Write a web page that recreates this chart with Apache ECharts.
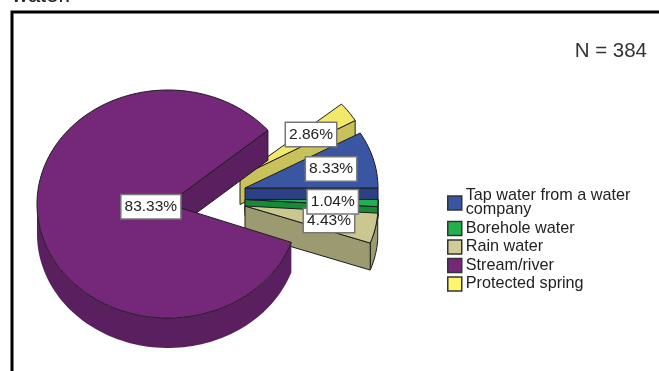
<!DOCTYPE html>
<html>
<head>
<meta charset="utf-8">
<style>html,body{margin:0;padding:0;background:#fff}#chart{width:659px;height:371px}</style>
<script src="https://cdn.jsdelivr.net/npm/echarts@6/dist/echarts.min.js"></script>
</head>
<body>
<div id="chart"></div>
<script>
// Water sources, clockwise from the first slice
const sources = ['Tap water from a water company', 'Borehole water', 'Rain water', 'Stream/river', 'Protected spring'];
const percents = [8.33, 1.04, 4.43, 83.33, 2.86];
const sampleNote = 'N = 384';

// Appearance of each slice
const topColors  = ['#3a56a3', '#22b14c', '#cbc791', '#75277a', '#f2e86b'];
const sideColors = ['#2c4185', '#178a3a', '#9c9a70', '#5a1f5e', '#c9c25a'];
const swatchColors = ['#3a56a3', '#22b14c', '#d0cc98', '#75277a', '#fdf56b'];
const outlineColor = '#1d1d1d';

// Exploded pie geometry: each slice has its own apex, radii and extrusion
const apexX = [245, 245, 245, 168, 240];
const apexY = [188, 199.5, 206, 204, 176.5];
const radiusX = [133, 133, 133, 131, 133];
const radiusY = [110, 110, 110, 114, 112];
const depths = [28, 12, 27, 30, 28];
const outlinedBand = [true, true, true, false, true];
const labelRadius = [0.67, 0.66, 0.645, 0.133, 0.653];
const firstAngle = -30;
const paintOrder = [4, 0, 1, 2, 3];
const labelOrder = [3, 0, 4, 2, 1];

const total = percents.reduce((a, b) => a + b, 0);
const startAngles = [];
percents.reduce((acc, v, i) => { startAngles[i] = acc; return acc + v / total * 360; }, firstAngle);
const endAngle = i => startAngles[i] + percents[i] / total * 360;
const cosDeg = deg => Math.cos(deg * Math.PI / 180);

function rimPoint(i, deg, drop) {
  const t = deg * Math.PI / 180;
  return [apexX[i] + radiusX[i] * Math.cos(t), apexY[i] + radiusY[i] * Math.sin(t) + drop];
}
function arc(i, from, to, drop) {
  const pts = [];
  const n = Math.max(2, Math.ceil((to - from) / 2));
  for (let k = 0; k <= n; k++) pts.push(rimPoint(i, from + (to - from) * k / n, drop));
  return pts;
}

// Only the faces turned towards the viewer are drawn
function sliceShape(i) {
  const d = depths[i], a = startAngles[i], b = endAngle(i);
  const apex = [apexX[i], apexY[i]], low = [apexX[i], apexY[i] + d];
  const edge = { stroke: outlineColor, lineWidth: 1, lineJoin: 'round' };
  const poly = (points, style) => ({ type: 'polygon', silent: true, shape: { points }, style });
  const side = Object.assign({ fill: sideColors[i] }, edge);
  const children = [];
  const bandFrom = Math.max(a, 0), bandTo = Math.min(b, 180);
  if (bandTo > bandFrom) {
    const band = arc(i, bandFrom, bandTo, 0).concat(arc(i, bandFrom, bandTo, d).reverse());
    children.push(poly(band, outlinedBand[i] ? side : { fill: sideColors[i] }));
  }
  if (cosDeg(a) < 0) children.push(poly([apex, rimPoint(i, a, 0), rimPoint(i, a, d), low], side));
  if (cosDeg(b) > 0) children.push(poly([apex, rimPoint(i, b, 0), rimPoint(i, b, d), low], side));
  children.push(poly([apex].concat(arc(i, a, b, 0)), Object.assign({ fill: topColors[i] }, edge)));
  return { type: 'group', children };
}

function labelShape(i) {
  const mid = (startAngles[i] + endAngle(i)) / 2 * Math.PI / 180;
  return {
    type: 'text',
    silent: true,
    style: {
      x: apexX[i] + radiusX[i] * labelRadius[i] * Math.cos(mid),
      y: apexY[i] + radiusY[i] * labelRadius[i] * Math.sin(mid),
      text: percents[i].toFixed(2) + '%',
      align: 'center',
      verticalAlign: 'middle',
      fill: '#222',
      font: '15.5px "Liberation Sans"',
      backgroundColor: '#fff',
      borderColor: '#777',
      borderWidth: 1.5,
      padding: [4, 3, 3, 3]
    }
  };
}

const sliceSeries = paintOrder.map(i => ({
  type: 'custom',
  name: sources[i],
  coordinateSystem: 'none',
  silent: true,
  z: 2,
  itemStyle: { color: swatchColors[i] },
  data: [percents[i]],
  renderItem: () => sliceShape(i)
}));

const labelSeries = {
  type: 'custom',
  name: 'labels',
  coordinateSystem: 'none',
  silent: true,
  z: 5,
  data: labelOrder.map(i => percents[i]),
  renderItem: params => labelShape(labelOrder[params.dataIndex])
};

const chart = echarts.init(document.getElementById('chart'), null, { renderer: 'canvas' });
chart.setOption({
  animation: false,
  backgroundColor: '#fff',
  legend: {
    data: sources,
    orient: 'vertical',
    left: 447,
    top: 188,
    itemWidth: 14,
    itemHeight: 14,
    itemGap: 2.5,
    padding: 0,
    selectedMode: false,
    icon: 'rect',
    itemStyle: { borderColor: '#333', borderWidth: 1.5 },
    textStyle: {
      color: '#222',
      fontFamily: 'Liberation Sans',
      fontSize: 16.2,
      lineHeight: 14,
      width: 185,
      overflow: 'break',
      padding: [0, 0, 0, -1]
    }
  },
  graphic: [
    {
      type: 'text', silent: true, z: 1,
      style: { x: 12, y: 6.5, text: 'water.', fill: '#222', font: '22px "Liberation Sans"', verticalAlign: 'bottom' }
    },
    {
      type: 'rect', silent: true, z: 1,
      shape: { x: 12, y: 12, width: 720, height: 420 },
      style: { fill: 'none', stroke: '#000', lineWidth: 3 }
    },
    {
      type: 'text', silent: true, z: 1,
      style: { x: 647, y: 51, text: sampleNote, fill: '#333', font: '20.5px "Liberation Sans"', align: 'right', verticalAlign: 'middle' }
    }
  ],
  series: sliceSeries.concat([labelSeries])
});
</script>
</body>
</html>
